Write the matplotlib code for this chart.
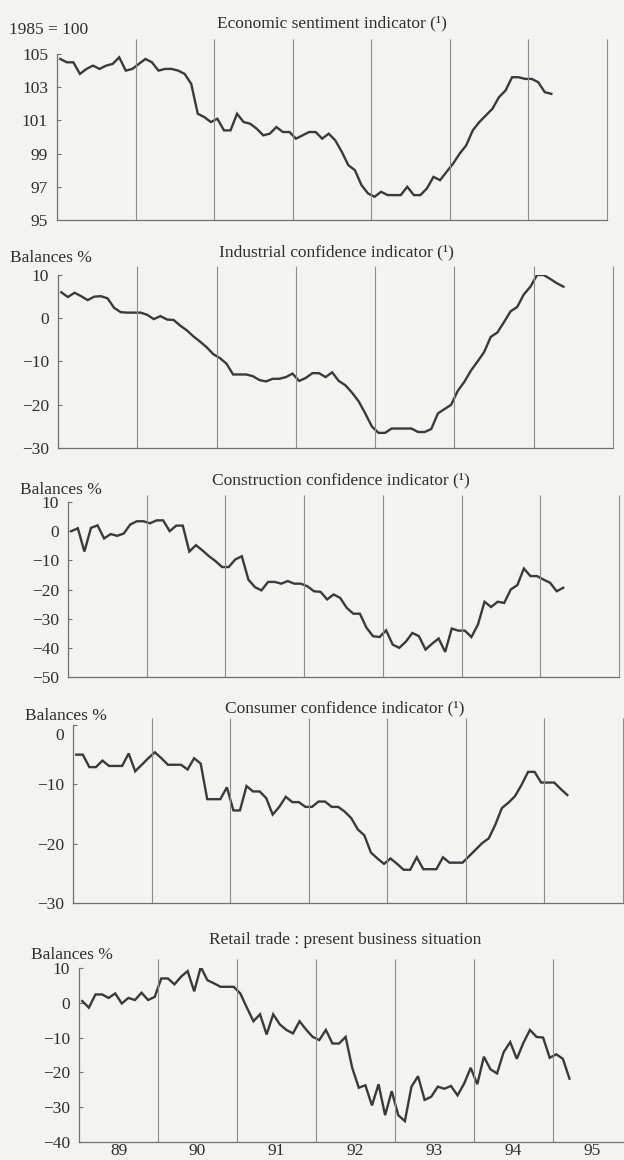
import matplotlib.pyplot as plt
import numpy as np

plt.rcParams['font.family'] = ['Liberation Serif', 'DejaVu Serif']

W, H = 624, 1160

# monthly series, Jan 1989 onwards
sentiment = [104.7, 104.5, 104.5, 103.8, 104.1, 104.3, 104.1, 104.3, 104.4, 104.8,
             104.0, 104.1, 104.4, 104.7, 104.5, 104.0, 104.1, 104.1, 104.0, 103.8,
             103.2, 101.4, 101.2, 100.9, 101.1, 100.4, 100.4, 101.4, 100.9, 100.8,
             100.5, 100.1, 100.2, 100.6, 100.3, 100.3, 99.9, 100.1, 100.3, 100.3,
             99.9, 100.2, 99.8, 99.1, 98.3, 98.0, 97.1, 96.6, 96.4, 96.7,
             96.5, 96.5, 96.5, 97.0, 96.5, 96.5, 96.9, 97.6, 97.4, 97.9,
             98.4, 99.0, 99.5, 100.4, 100.9, 101.3, 101.7, 102.4, 102.8, 103.6,
             103.6, 103.5, 103.5, 103.3, 102.7, 102.6]

industry = [6, 4.9, 5.9, 5.1, 4.2, 5.0, 5.1, 4.6, 2.4, 1.4,
            1.3, 1.3, 1.3, 0.8, -0.2, 0.5, -0.3, -0.4, -1.7, -2.8,
            -4.2, -5.4, -6.7, -8.3, -9.2, -10.5, -13, -13, -13, -13.4,
            -14.3, -14.6, -14, -14, -13.6, -12.8, -14.5, -13.8, -12.7, -12.7,
            -13.6, -12.5, -14.5, -15.5, -17.2, -19.2, -22, -25, -26.5, -26.5,
            -25.5, -25.5, -25.5, -25.5, -26.3, -26.3, -25.6, -22, -21, -20,
            -16.8, -14.7, -12.1, -10, -7.8, -4.3, -3.3, -0.9, 1.6, 2.6,
            5.5, 7.3, 10, 10, 9.1, 8.1, 7.3]

construction = [0, 1, -7, 1.1, 2, -2.5, -1, -1.6, -0.8, 2.3,
                3.4, 3.4, 2.7, 3.7, 3.7, 0, 1.9, 1.9, -7, -4.8,
                -6.6, -8.6, -10.3, -12.3, -12.3, -9.7, -8.6, -16.6, -19.2, -20.3,
                -17.4, -17.4, -18, -17.1, -18, -18, -18.9, -20.6, -20.8, -23.4,
                -21.7, -22.9, -26.3, -28.3, -28.3, -33.1, -36, -36.3, -34, -38.9,
                -40, -37.9, -34.9, -36, -40.6, -38.6, -36.8, -41.4, -33.4, -34.1,
                -34.1, -36.3, -32, -24.2, -26, -24.2, -24.6, -20, -18.5, -12.8,
                -15.4, -15.4, -16.6, -17.7, -20.6, -19.4]

consumer = [-5, -5, -7.1, -7.1, -6, -6.9, -6.9, -6.9, -4.8, -7.8,
            -6.7, -5.6, -4.6, -5.6, -6.7, -6.7, -6.7, -7.5, -5.6, -6.5,
            -12.5, -12.5, -12.5, -10.5, -14.4, -14.4, -10.3, -11.2, -11.2, -12.3,
            -15.1, -13.8, -12.1, -13, -13, -13.8, -13.8, -12.9, -12.9, -13.8,
            -13.8, -14.6, -15.7, -17.6, -18.6, -21.5, -22.5, -23.4, -22.5, -23.4,
            -24.4, -24.4, -22.3, -24.3, -24.3, -24.3, -22.3, -23.2, -23.2, -23.2,
            -22.1, -21, -19.9, -19.1, -16.8, -14, -13.1, -12, -10.1, -7.9,
            -7.9, -9.7, -9.7, -9.7, -10.8, -11.8]

retail = [0.5, -1.4, 2.4, 2.4, 1.4, 2.7, -0.2, 1.4, 0.8, 2.9,
          0.8, 1.7, 7, 7, 5.3, 7.5, 9.1, 3.3, 10.3, 6.5,
          5.6, 4.6, 4.6, 4.6, 2.7, -1.4, -5.3, -3.3, -9.1, -3.3,
          -6.2, -7.8, -8.8, -5.3, -7.7, -9.8, -10.7, -7.8, -11.7, -11.7,
          -9.8, -18.7, -24.4, -23.7, -29.5, -23.4, -32.3, -25.4, -32.3, -34,
          -24.1, -21.1, -27.9, -27, -24.1, -24.7, -23.9, -26.6, -23.2, -18.7,
          -23.4, -15.5, -19.1, -20.3, -14.2, -11.3, -16.1, -11.5, -7.8, -9.8,
          -10, -15.8, -14.8, -16.1, -21.8]

series = [sentiment, industry, construction, consumer, retail]
titles = ['Economic sentiment indicator (¹)',
          'Industrial confidence indicator (¹)',
          'Construction confidence indicator (¹)',
          'Consumer confidence indicator (¹)',
          'Retail trade : present business situation']
units = ['1985 = 100', 'Balances %', 'Balances %', 'Balances %', 'Balances %']
ylims = [(95, 105), (-30, 10), (-50, 10), (-30, 0), (-40, 10)]
yticks = [[95, 97, 99, 101, 103, 105],
          [-30, -20, -10, 0, 10],
          [-50, -40, -30, -20, -10, 0, 10],
          [-30, -20, -10, 0],
          [-40, -30, -20, -10, 0, 10]]
years = [1989, 1990, 1991, 1992, 1993, 1994, 1995]
year_labels = ['89', '90', '91', '92', '93', '94', '95']

# panel frames in pixels: left (1989), right (1996), top, bottom
frames = [(57, 607, 54, 220), (58, 613, 275, 448), (68, 619, 502, 677),
          (73, 623, 725, 903), (79, 632, 968, 1142)]
title_x = [332, 336, 341, 345, 345]
title_y = [23, 252, 480, 708, 940]
unit_y = [30, 258, 490, 716, 955]
rule_ext = [15, 9, 7, 7, 9]   # how far the year rules rise above the frame, px
top_label_drop = [0, 0, 0, 11, 0]   # top tick label pushed down under the unit text, px

ink = '#2e2e2e'
rule = '#8c8c8c'
paper = '#f3f3f1'

fig = plt.figure(figsize=(W / 100, H / 100), dpi=100, facecolor=paper)

for i, vals in enumerate(series):
    l, r, t, b = frames[i]
    ax = fig.add_axes([l / W, 1 - b / H, (r - l) / W, (b - t) / H])
    ax.set_facecolor('none')
    x = 1989 + (np.arange(len(vals)) + 0.5) / 12
    ax.plot(x, vals, color='#3a3a3a', lw=1.7, solid_joinstyle='miter')

    lo, hi = ylims[i]
    ext = rule_ext[i] / (b - t) * (hi - lo)
    ax.vlines(np.arange(1990, 1997), lo, hi + ext, color=rule, lw=0.8, clip_on=False)

    ax.set_xlim(1989, 1996)
    ax.set_ylim(lo, hi)
    ax.set_yticks(yticks[i])
    labels = [str(v).replace('-', '\u2212') for v in yticks[i]]
    if top_label_drop[i]:
        # the top label sits a little lower than its tick
        ax.annotate(labels[-1], xy=(0, yticks[i][-1]), xycoords=('axes fraction', 'data'),
                    xytext=(-9, -top_label_drop[i]), textcoords='offset pixels',
                    ha='right', va='center', fontsize=12.5, color=ink)
        labels[-1] = ''
    ax.set_yticklabels(labels)
    for side in ['top', 'right']:
        ax.spines[side].set_visible(False)
    for side in ['left', 'bottom']:
        ax.spines[side].set_color('#707070')
        ax.spines[side].set_linewidth(0.9)
    ax.tick_params(axis='y', direction='in', length=3, width=0.8, color='#707070',
                   labelsize=12.5, labelcolor=ink, pad=6.5)

    if i == len(series) - 1:
        ax.set_xticks([y + 0.5 for y in years])
        ax.set_xticklabels(year_labels)
        ax.tick_params(axis='x', length=0, labelsize=12.5, labelcolor=ink, pad=0.5)
    else:
        ax.set_xticks([])

    fig.text(title_x[i] / W, 1 - title_y[i] / H, titles[i], ha='center', va='center',
             fontsize=12.5, color=ink)
    fig.text((l - 48) / W, 1 - unit_y[i] / H, units[i], ha='left', va='center',
             fontsize=12.5, color=ink)

fig.savefig('out.png', dpi=100, facecolor=paper)
